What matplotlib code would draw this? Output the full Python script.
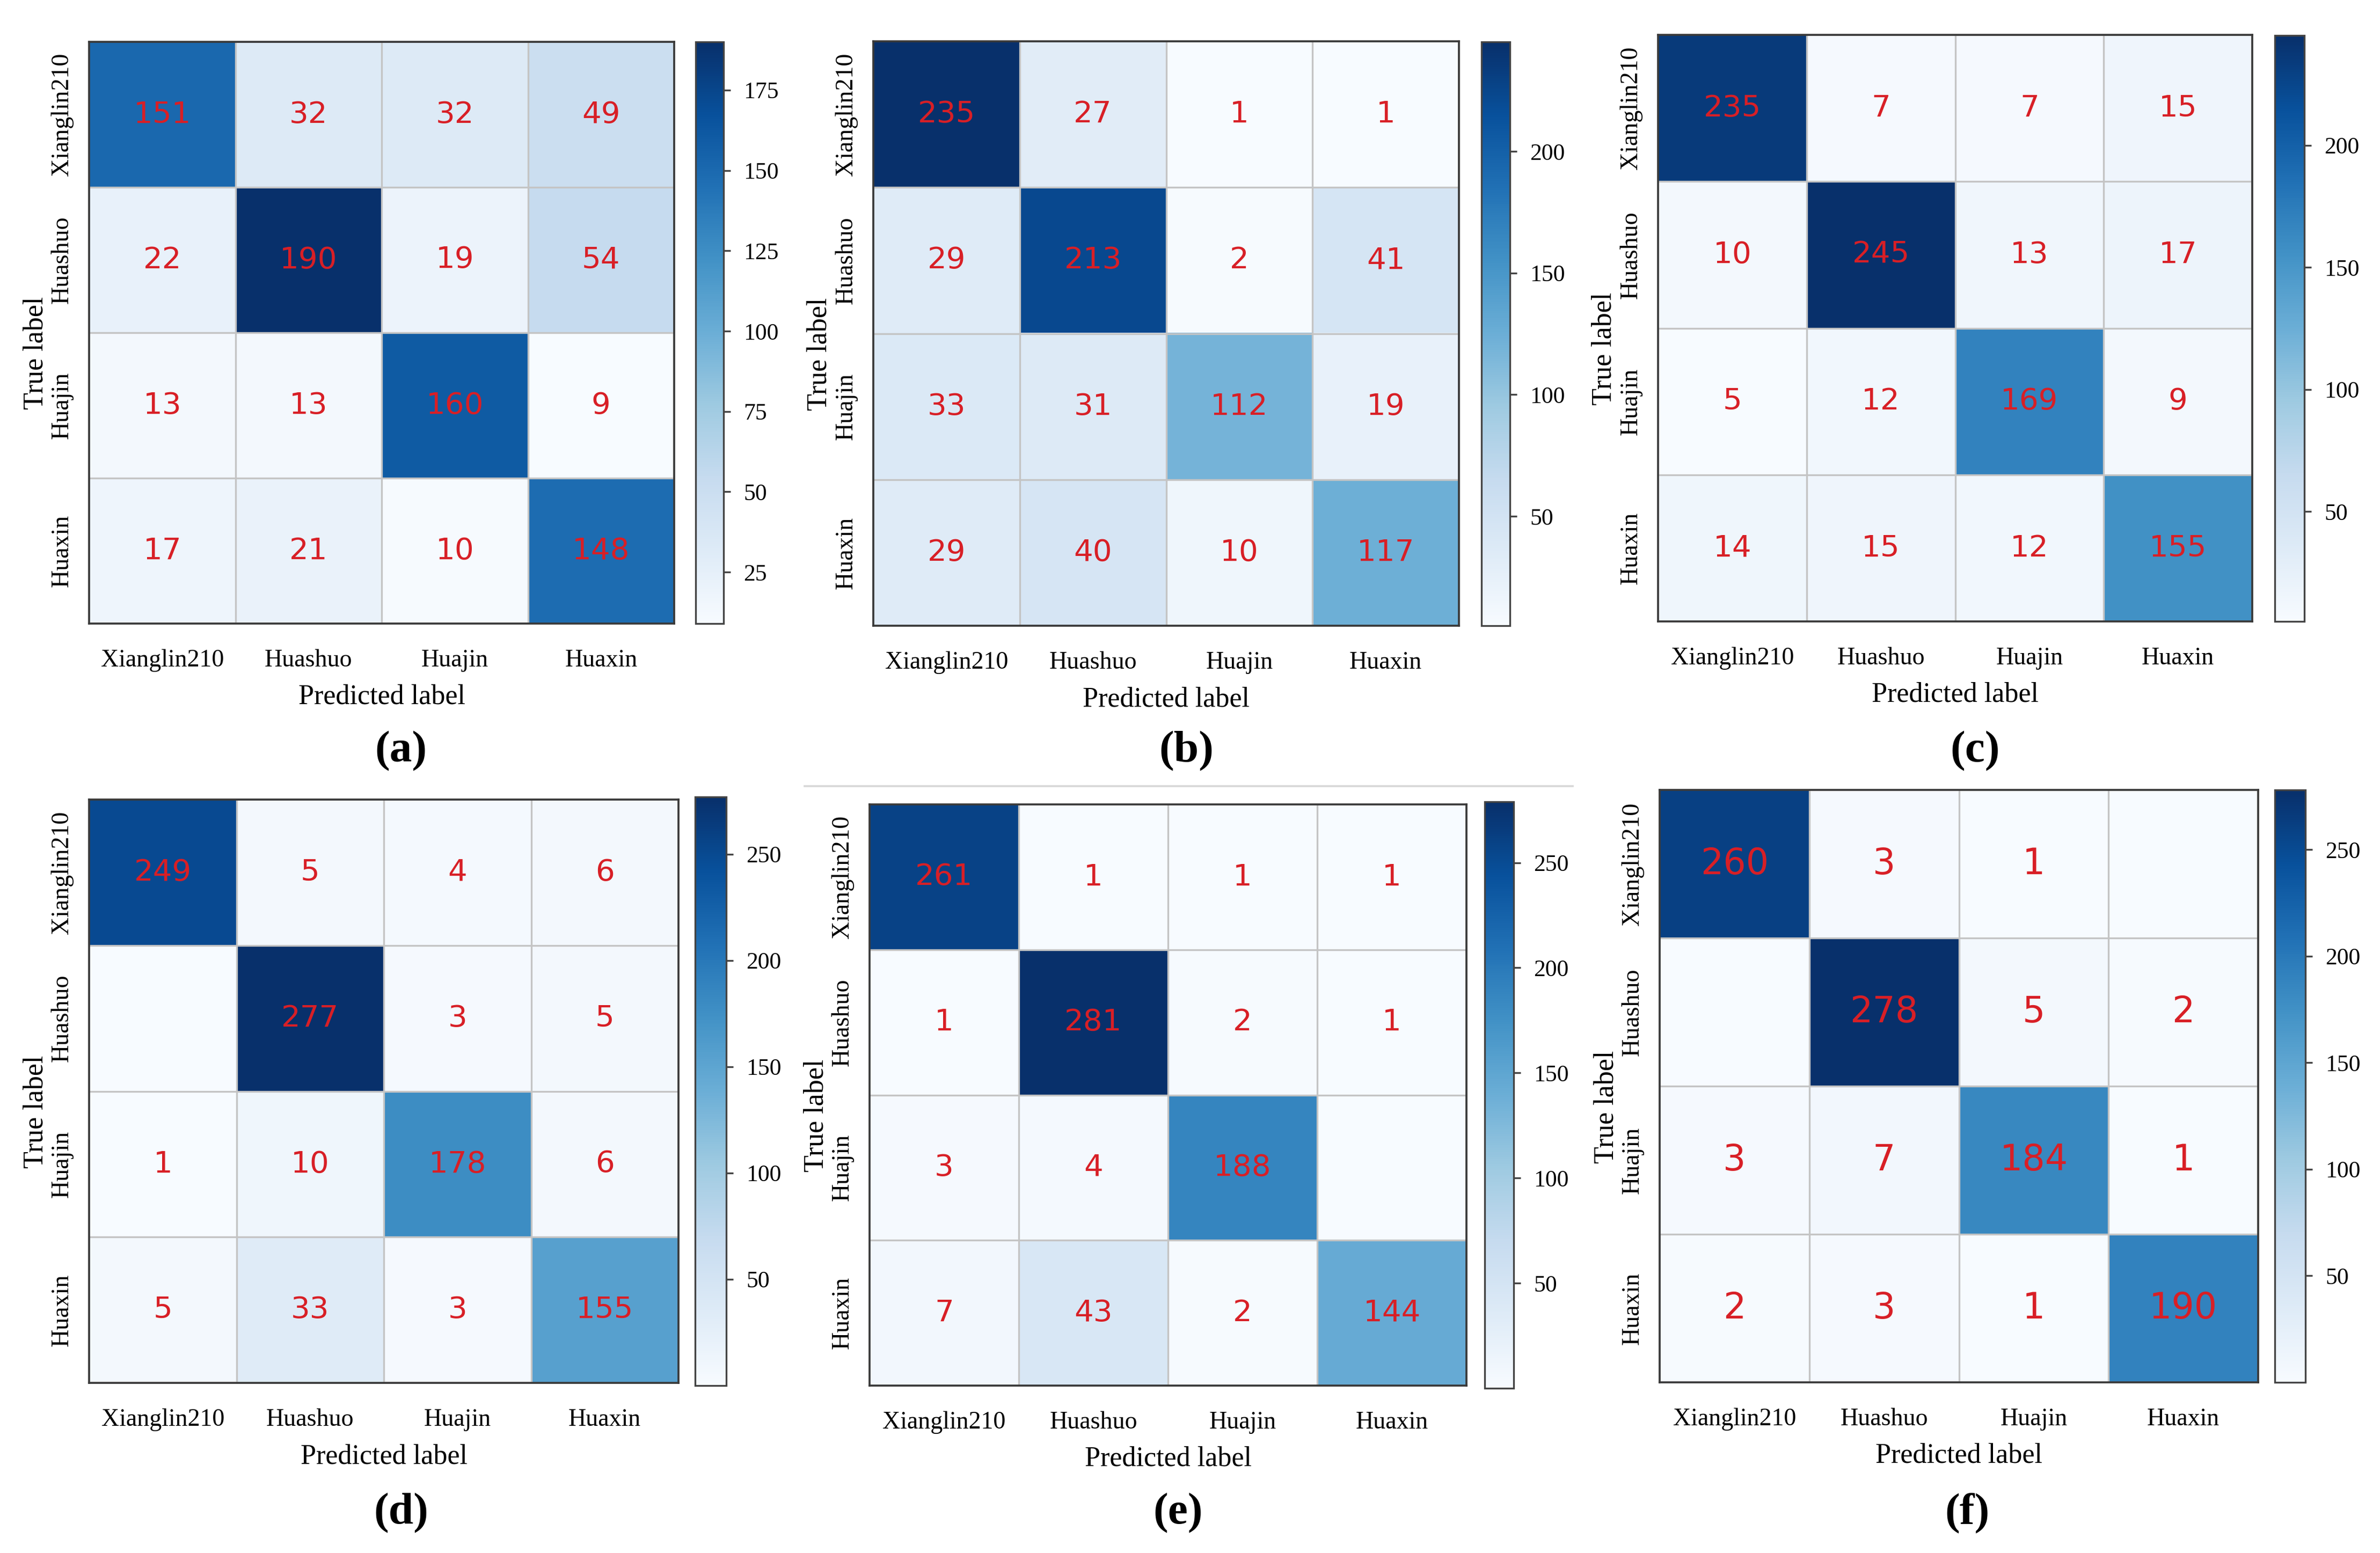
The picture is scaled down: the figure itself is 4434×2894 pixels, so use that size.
import numpy as np
import matplotlib
matplotlib.use("Agg")
from matplotlib import pyplot as plt
from matplotlib.lines import Line2D
from matplotlib.colors import Normalize
from matplotlib.cm import ScalarMappable

plt.rcParams["font.family"] = ["Liberation Serif", "DejaVu Serif"]

classes = ["Xianglin210", "Huashuo", "Huajin", "Huaxin"]

cm_a = [[151, 32, 32, 49], [22, 190, 19, 54], [13, 13, 160, 9], [17, 21, 10, 148]]
cm_b = [[235, 27, 1, 1], [29, 213, 2, 41], [33, 31, 112, 19], [29, 40, 10, 117]]
cm_c = [[235, 7, 7, 15], [10, 245, 13, 17], [5, 12, 169, 9], [14, 15, 12, 155]]
cm_d = [[249, 5, 4, 6], [0, 277, 3, 5], [1, 10, 178, 6], [5, 33, 3, 155]]
cm_e = [[261, 1, 1, 1], [1, 281, 2, 1], [3, 4, 188, 0], [7, 43, 2, 144]]
cm_f = [[260, 3, 1, 0], [0, 278, 5, 2], [3, 7, 184, 1], [2, 3, 1, 190]]

panel_tags = ["(a)", "(b)", "(c)", "(d)", "(e)", "(f)"]
# colour bar ranges and ticks
cbar_lims = [(9, 190), (5, 245), (5, 245), (0, 277), (0, 279), (0, 278)]
cbar_ticks = [[25, 50, 75, 100, 125, 150, 175],
              [50, 100, 150, 200],
              [50, 100, 150, 200],
              [50, 100, 150, 200, 250],
              [50, 100, 150, 200, 250],
              [50, 100, 150, 200, 250]]

W, H = 4434, 2894
# pixel boxes (left, top, right, bottom) of heatmap and colour bar
hm_boxes = [(166, 78, 1256, 1162), (1627, 77, 2718, 1166), (3089, 65, 4196, 1158),
            (166, 1490, 1264, 2577), (1620, 1499, 2732, 2582), (3092, 1472, 4207, 2576)]
cb_boxes = [(1296, 78, 1348, 1162), (2760, 78, 2813, 1166), (4238, 66, 4293, 1158),
            (1295, 1485, 1353, 2582), (2766, 1494, 2820, 2587), (4238, 1472, 4295, 2576)]
tag_pos = [(747, 1400), (2210, 1400), (3680, 1400), (747, 2820), (2195, 2820), (3665, 2820)]
num_sizes = [13.5, 13.5, 13.5, 13.5, 13.5, 16]


def box(b):
    l, t, r, bo = b
    return [l / W, 1 - bo / H, (r - l) / W, (bo - t) / H]


def draw_cm(fig, cm, hb, cb, clim, ticks, nsize):
    cm = np.array(cm)
    ax = fig.add_axes(box(hb))
    ax.imshow(cm, cmap="Blues", vmin=cm.min(), vmax=cm.max(), aspect="auto")
    for k in (0.5, 1.5, 2.5):
        ax.axhline(k, color="#c4c4c4", lw=0.8)
        ax.axvline(k, color="#c4c4c4", lw=0.8)
    for i in range(4):
        for j in range(4):
            if cm[i, j] > 0:
                ax.text(j, i, str(cm[i, j]), ha="center", va="center",
                        color="#d81f26", fontsize=nsize, family="DejaVu Sans")
    ax.set_xticks(range(4))
    ax.set_yticks(range(4))
    ax.set_xticklabels(classes, fontsize=11)
    ax.set_yticklabels(classes, fontsize=11, rotation=90, va="center")
    ax.tick_params(axis="x", length=0, pad=11.5)
    ax.tick_params(axis="y", length=0, pad=7)
    for sp in ax.spines.values():
        sp.set_edgecolor("#3a3a3a")
        sp.set_linewidth(0.9)
    wpx = hb[2] - hb[0]
    hpx = hb[3] - hb[1]
    ax.text(0.5, -113 / hpx, "Predicted label", transform=ax.transAxes,
            ha="center", va="top", fontsize=12.5)
    ax.text(-100 / wpx, 0.465, "True label", transform=ax.transAxes, rotation=90,
            ha="center", va="center", rotation_mode="anchor", fontsize=12.5)

    cax = fig.add_axes(box(cb))
    sm = ScalarMappable(norm=Normalize(*clim), cmap="Blues")
    cbar = fig.colorbar(sm, cax=cax, ticks=ticks)
    cbar.outline.set_edgecolor("#444444")
    cbar.outline.set_linewidth(0.8)
    cax.tick_params(length=3, width=0.8, pad=6, labelsize=10.5, color="#444444")
    return ax


fig = plt.figure(figsize=(W / 300, H / 300), dpi=300)

all_cms = [cm_a, cm_b, cm_c, cm_d, cm_e, cm_f]
for n in range(6):
    draw_cm(fig, all_cms[n], hm_boxes[n], cb_boxes[n], cbar_lims[n], cbar_ticks[n], num_sizes[n])
    tx, ty = tag_pos[n]
    fig.text(tx / W, 1 - ty / H, panel_tags[n], ha="center", va="center",
             fontsize=20, fontweight="bold")

# thin separator line above panel (e)
fig.add_artist(Line2D([1499 / W, 2930 / W], [1 - 1465 / H, 1 - 1465 / H],
                      transform=fig.transFigure, color="#d9d9d9", lw=0.9))

fig.savefig("out.png", dpi=300)
